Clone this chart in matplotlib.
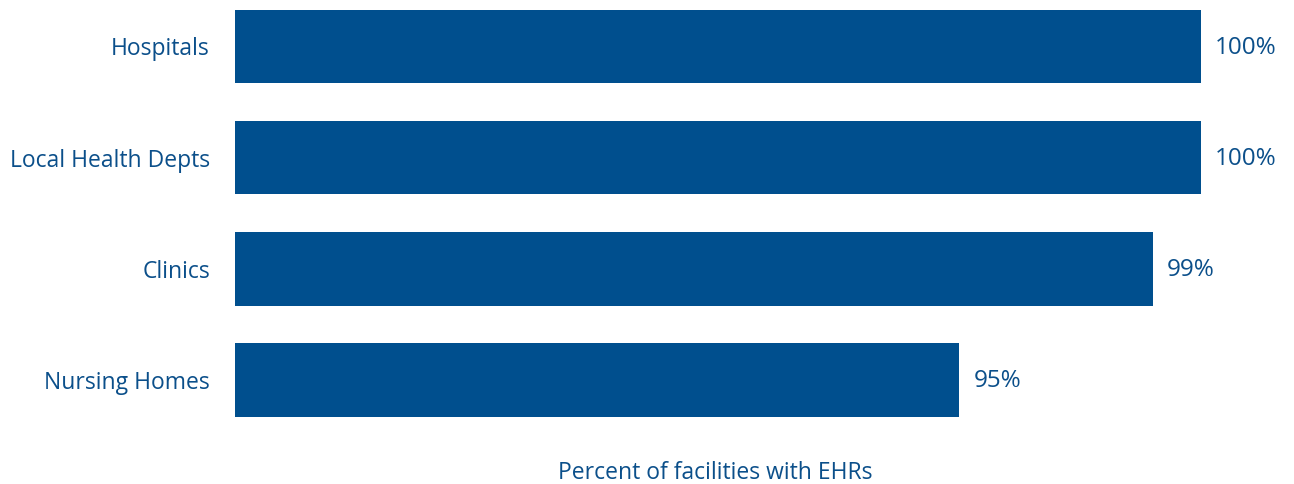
import matplotlib.pyplot as plt

categories = ["Hospitals", "Local Health Depts", "Clinics", "Nursing Homes"]
values = [100, 100, 99, 95]
value_labels = ["100%", "100%", "99%", "95%"]

bar_color = "#004F8E"
text_color = "#0B4F8A"
plt.rcParams['font.family'] = ['Open Sans', 'DejaVu Sans']

fig = plt.figure(figsize=(12.94, 4.84), dpi=100)
ax = fig.add_axes([0.1816, 0.1, 0.7465, 0.9188])

ypos = range(len(categories))
ax.barh(ypos, values, height=0.66, color=bar_color)
ax.set_xlim(80, 100)
ax.set_ylim(3.5, -0.5)
ax.set_yticks(list(ypos))
ax.set_yticklabels(categories, fontsize=16.5, color=text_color)
ax.tick_params(axis='y', length=0, pad=18)
ax.set_xticks([])
for s in ax.spines.values():
    s.set_visible(False)

for y, v, lab in zip(ypos, values, value_labels):
    ax.annotate(lab, (v, y), xytext=(10, -1), textcoords="offset points",
                ha="left", va="center", fontsize=17.5, color=text_color,
                annotation_clip=False)

fig.text(0.553, 0.023, "Percent of facilities with EHRs", ha="center", va="center",
         fontsize=16.5, color=text_color)

fig.savefig("out.png", dpi=100)
